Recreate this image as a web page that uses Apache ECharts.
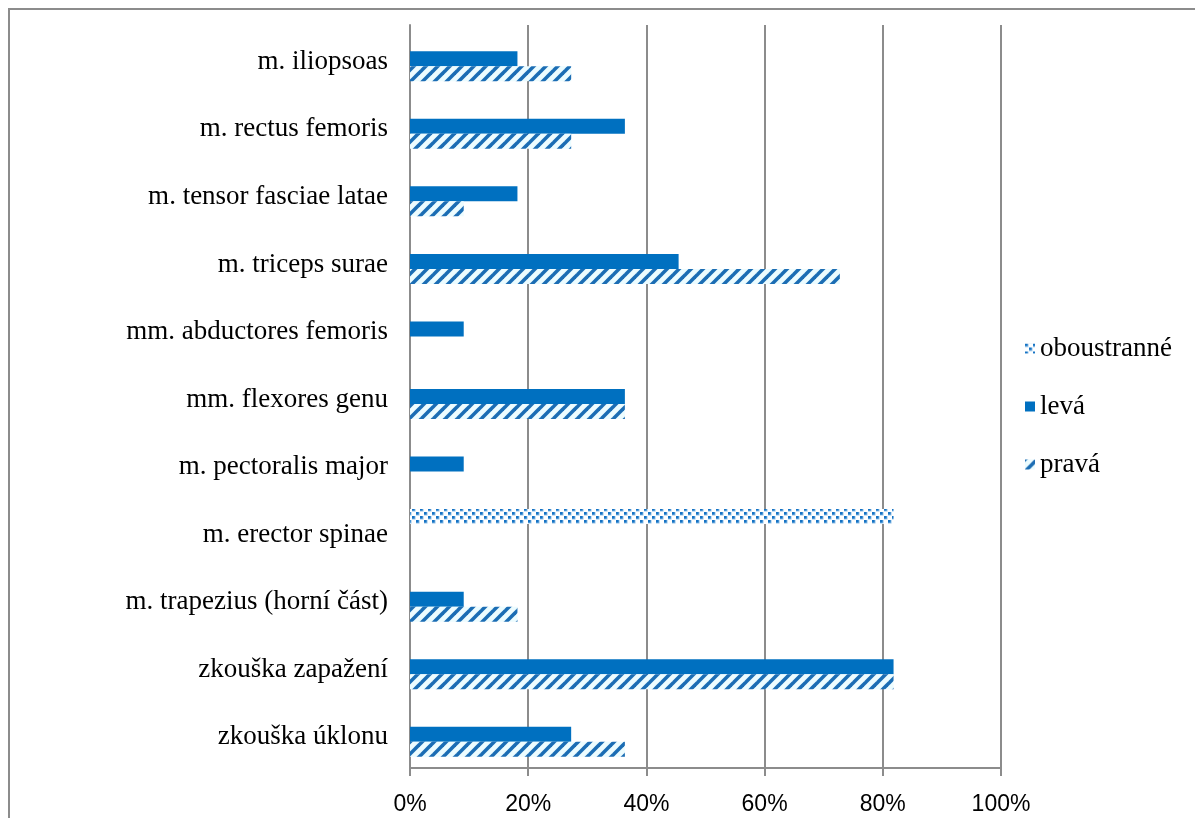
<!DOCTYPE html>
<html>
<head>
<meta charset="utf-8">
<script src="https://cdn.jsdelivr.net/npm/echarts@6/dist/echarts.min.js"></script>
<style>
  html, body { margin: 0; padding: 0; background: #fff; }
  #chart { width: 1195px; height: 818px; }
</style>
</head>
<body>
<div id="chart"></div>
<script>
// categories listed bottom -> top (category axis runs upward)
var categories = ['zkouška úklonu', 'zkouška zapažení', 'm. trapezius (horní část)', 'm. erector spinae',
  'm. pectoralis major', 'mm. flexores genu', 'mm. abductores femoris', 'm. triceps surae',
  'm. tensor fasciae latae', 'm. rectus femoris', 'm. iliopsoas'];
var oboustranne = [0, 0, 0, 81.82, 0, 0, 0, 0, 0, 0, 0];
var leva = [27.27, 81.82, 9.09, 0, 9.09, 36.36, 9.09, 45.45, 18.18, 36.36, 18.18];
var prava = [36.36, 81.82, 18.18, 0, 0, 36.36, 0, 72.73, 9.09, 27.27, 27.27];
var seriesNames = ['oboustranné', 'levá', 'pravá'];

// hatch patterns
function stripePattern() {
  var c = document.createElement('canvas');
  c.width = 12; c.height = 12;
  var ctx = c.getContext('2d');
  ctx.fillStyle = '#ecfcff';
  ctx.fillRect(0, 0, 12, 12);
  ctx.strokeStyle = '#1b6db4';
  ctx.lineWidth = 3.6;
  [[-6, 6, 6, -6], [0, 12, 12, 0], [6, 18, 18, 6]].forEach(function (l) {
    ctx.beginPath(); ctx.moveTo(l[0], l[1]); ctx.lineTo(l[2], l[3]); ctx.stroke();
  });
  return c;
}
function dotPattern() {
  var c = document.createElement('canvas');
  c.width = 8; c.height = 8;
  var ctx = c.getContext('2d');
  ctx.fillStyle = '#ffffff';
  ctx.fillRect(0, 0, 8, 8);
  ctx.fillStyle = '#8fc0e8';
  ctx.fillRect(0, 0, 3.5, 3.5);
  ctx.fillRect(4, 4, 3.5, 3.5);
  ctx.fillStyle = '#1673c4';
  ctx.fillRect(0, 0, 2.6, 2.6);
  ctx.fillRect(4, 4, 2.6, 2.6);
  return c;
}

var chart = echarts.init(document.getElementById('chart'));
var serif = 'Liberation Serif';
var option = {
  backgroundColor: '#fff',
  animation: false,
  graphic: [{
    type: 'rect',
    shape: { x: 9, y: 9, width: 1250, height: 900 },
    style: { fill: 'none', stroke: '#8c8c8c', lineWidth: 2 },
    silent: true
  }],
  grid: { left: 410, right: 194, top: 25, bottom: 50 },
  legend: {
    orient: 'vertical',
    left: 1020,
    top: 330,
    data: seriesNames,
    icon: 'rect',
    itemWidth: 10,
    itemHeight: 10,
    itemGap: 31,
    textStyle: { fontFamily: serif, fontSize: 27, color: '#000' }
  },
  xAxis: {
    type: 'value',
    min: 0,
    max: 100,
    interval: 20,
    axisLine: { show: true, lineStyle: { color: '#8c8c8c', width: 2 } },
    axisTick: { show: true, length: 8, lineStyle: { color: '#8c8c8c', width: 2 } },
    splitLine: { show: true, lineStyle: { color: '#8c8c8c', width: 2 } },
    axisLabel: { formatter: '{value}%', fontFamily: 'Liberation Sans', fontSize: 23, color: '#000', margin: 25 }
  },
  yAxis: {
    type: 'category',
    data: categories,
    axisLine: { lineStyle: { color: '#8c8c8c', width: 2 } },
    axisTick: { length: 7, lineStyle: { color: '#8c8c8c', width: 2 } },
    axisLabel: {
      margin: 22,
      formatter: function (v) { return '{c|' + v + '}'; },
      rich: { c: { fontFamily: serif, fontSize: 27, color: '#000', padding: [6, 0, 0, 0] } }
    }
  },
  // first series is drawn at the top of each category band
  series: [
    { name: 'oboustranné', type: 'bar', data: oboustranne, barWidth: 15, barGap: '0%',
      itemStyle: { color: { image: dotPattern(), repeat: 'repeat' } } },
    { name: 'levá', type: 'bar', data: leva, barWidth: 15, barGap: '0%',
      itemStyle: { color: '#0070c0' } },
    { name: 'pravá', type: 'bar', data: prava, barWidth: 15, barGap: '0%',
      itemStyle: { color: { image: stripePattern(), repeat: 'repeat' } } }
  ]
};
chart.setOption(option);
</script>
</body>
</html>
